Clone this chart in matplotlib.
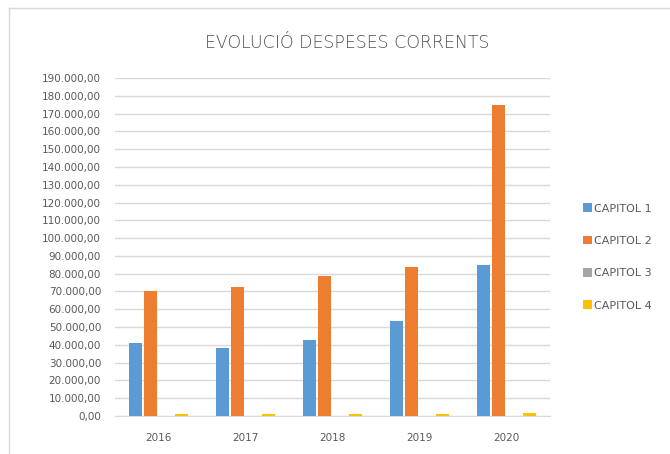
import matplotlib.pyplot as plt
from matplotlib.ticker import FuncFormatter, MultipleLocator
import numpy as np

years = ['2016', '2017', '2018', '2019', '2020']
capitol_1 = [40800, 38000, 43000, 53500, 85000]
capitol_2 = [70500, 72500, 78500, 84000, 175000]
capitol_3 = [0, 0, 0, 0, 0]
capitol_4 = [900, 900, 900, 900, 1800]

series = ['CAPITOL 1', 'CAPITOL 2', 'CAPITOL 3', 'CAPITOL 4']
colors = ['#5B9BD5', '#ED7D31', '#A5A5A5', '#FFC000']
grey_txt = '#595959'


def euro_fmt(v, pos):
    s = '{:,.2f}'.format(v)
    return s.replace(',', 'X').replace('.', ',').replace('X', '.')


fig = plt.figure(figsize=(6.7, 4.54), dpi=100)
ax = fig.add_axes([0.1716, 0.0837, 0.6494, 0.7445])

x = np.arange(len(years))
slot = 0.175
width = 0.15
data = [capitol_1, capitol_2, capitol_3, capitol_4]
for i, (vals, name, c) in enumerate(zip(data, series, colors)):
    ax.bar(x + (i - 1.5) * slot, vals, width, color=c, label=name, zorder=3)

ax.set_xlim(-0.5, len(years) - 0.5)
ax.set_ylim(0, 190000)
ax.yaxis.set_major_locator(MultipleLocator(10000))
ax.yaxis.set_major_formatter(FuncFormatter(euro_fmt))
ax.set_xticks(x)
ax.set_xticklabels(years)
ax.grid(axis='y', color='#d9d9d9', linewidth=1, zorder=0)
for sp in ['top', 'right', 'left']:
    ax.spines[sp].set_visible(False)
ax.spines['bottom'].set_color('#d9d9d9')
ax.tick_params(axis='both', length=0, labelsize=7.5, labelcolor=grey_txt)
ax.tick_params(axis='x', pad=12)
ax.tick_params(axis='y', pad=10)

fig.text(0.518, 0.905, 'EVOLUCIÓ DESPESES CORRENTS', ha='center', va='center',
         fontsize=12.5, color='#505050', fontweight='light')

leg = fig.legend(loc='center left', bbox_to_anchor=(0.855, 0.434), frameon=False,
                 fontsize=8, handlelength=0.8, handleheight=0.8, handletextpad=0.2,
                 labelspacing=2.0, labelcolor=grey_txt)

# chart border
fig.add_artist(plt.Line2D([0.013, 0.013], [-0.1, 0.982], color='#d9d9d9', lw=1))
fig.add_artist(plt.Line2D([0.013, 1.1], [0.982, 0.982], color='#d9d9d9', lw=1))

fig.savefig('out.png', dpi=100)
